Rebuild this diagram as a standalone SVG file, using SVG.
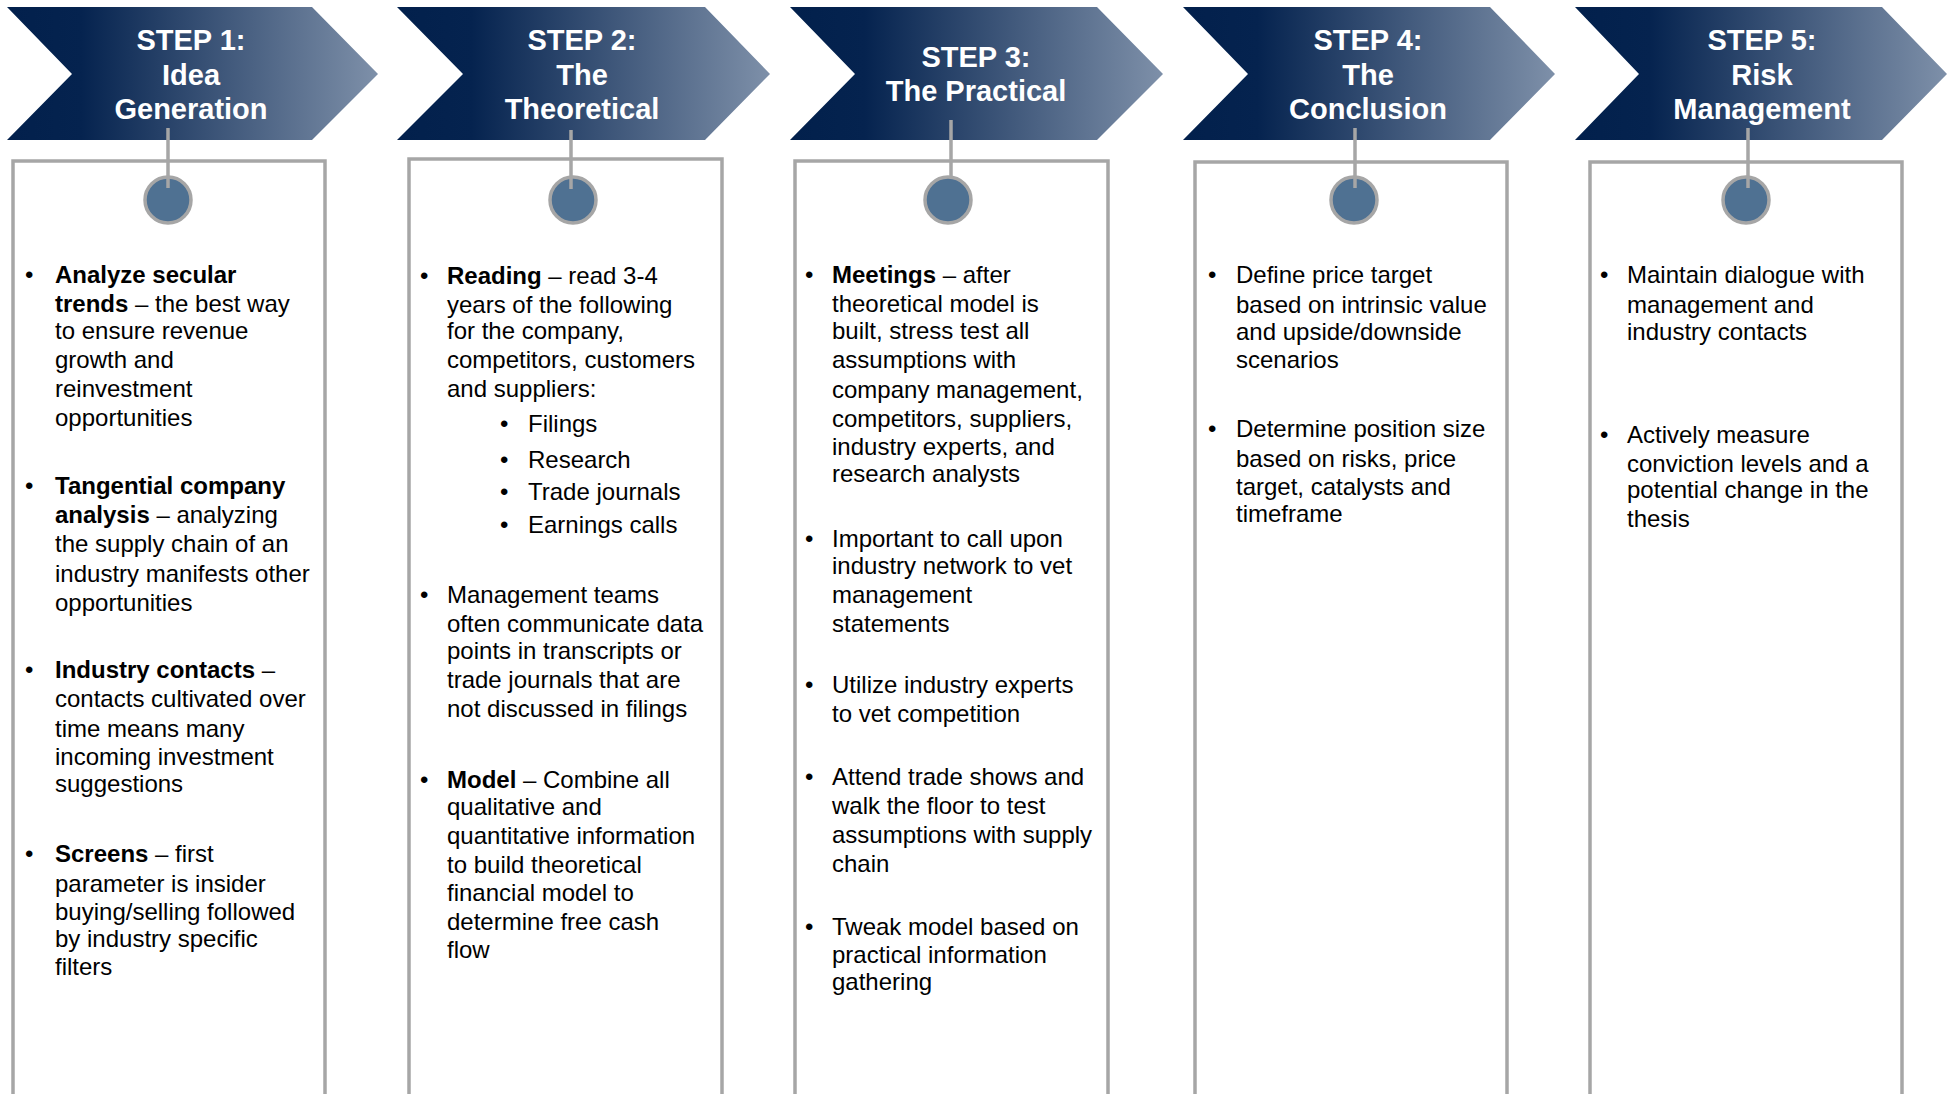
<svg xmlns="http://www.w3.org/2000/svg" width="1956" height="1094" viewBox="0 0 1956 1094">
  <defs>
    <linearGradient id="chevFill" x1="0" y1="0" x2="1" y2="0">
      <stop offset="0" stop-color="#02204c"/>
      <stop offset="0.2" stop-color="#05234f"/>
      <stop offset="1" stop-color="#7e90a9"/>
    </linearGradient>
  </defs>
  <style>
    .chev { fill: url(#chevFill); }
    .head { font-family: "Liberation Sans", Arial, sans-serif; font-weight: bold; font-size: 29px; fill: #ffffff; text-anchor: middle; }
    .panel { fill: #ffffff; stroke: #a6a6a6; stroke-width: 3.5; }
    .dot { fill: #4f7192; stroke: #a6a6a6; stroke-width: 3.5; }
    .link { stroke: #a6a6a6; stroke-width: 3.5; fill: none; }
    .body { font-family: "Liberation Sans", Arial, sans-serif; font-size: 24px; fill: #000000; }
    .b { font-weight: bold; }
  </style>

  <rect x="0" y="0" width="1956" height="1094" fill="#ffffff"/>

  <!-- Step 1 -->
  <g id="step1">
    <polygon class="chev" points="7,7 312,7 378,74 312,140 7,140 72,74"/>
    <text class="head"><tspan x="191" y="50">STEP 1:</tspan><tspan x="191" y="84.5">Idea</tspan><tspan x="191" y="119">Generation</tspan></text>
    <rect class="panel" x="13" y="161" width="312" height="960"/>
    <circle class="dot" cx="168" cy="200" r="23"/>
    <text class="body">
      <tspan x="25" y="283">•</tspan><tspan x="55" y="283" class="b">Analyze secular</tspan>
      <tspan x="55" y="312" class="b">trends</tspan><tspan> – the best way</tspan>
      <tspan x="55" y="339">to ensure revenue</tspan>
      <tspan x="55" y="368">growth and</tspan>
      <tspan x="55" y="397">reinvestment</tspan>
      <tspan x="55" y="426">opportunities</tspan>
      <tspan x="25" y="494">•</tspan><tspan x="55" y="494" class="b">Tangential company</tspan>
      <tspan x="55" y="523" class="b">analysis</tspan><tspan> – analyzing</tspan>
      <tspan x="55" y="552">the supply chain of an</tspan>
      <tspan x="55" y="582">industry manifests other</tspan>
      <tspan x="55" y="611">opportunities</tspan>
      <tspan x="25" y="678">•</tspan><tspan x="55" y="678" class="b">Industry contacts</tspan><tspan> –</tspan>
      <tspan x="55" y="707">contacts cultivated over</tspan>
      <tspan x="55" y="737">time means many</tspan>
      <tspan x="55" y="765">incoming investment</tspan>
      <tspan x="55" y="792">suggestions</tspan>
      <tspan x="25" y="862">•</tspan><tspan x="55" y="862" class="b">Screens</tspan><tspan> – first</tspan>
      <tspan x="55" y="892">parameter is insider</tspan>
      <tspan x="55" y="920">buying/selling followed</tspan>
      <tspan x="55" y="947">by industry specific</tspan>
      <tspan x="55" y="975">filters</tspan>
    </text>
  </g>

  <!-- Step 2 -->
  <g id="step2">
    <polygon class="chev" points="397,7 705,7 770,74 705,140 397,140 463,74"/>
    <text class="head"><tspan x="582" y="50">STEP 2:</tspan><tspan x="582" y="84.5">The</tspan><tspan x="582" y="119">Theoretical</tspan></text>
    <rect class="panel" x="409" y="159" width="313" height="960"/>
    <circle class="dot" cx="573" cy="200" r="23"/>
    <text class="body">
      <tspan x="420" y="284">•</tspan><tspan x="447" y="284" class="b">Reading</tspan><tspan> – read 3-4</tspan>
      <tspan x="447" y="313">years of the following</tspan>
      <tspan x="447" y="339">for the company,</tspan>
      <tspan x="447" y="368">competitors, customers</tspan>
      <tspan x="447" y="397">and suppliers:</tspan>
      <tspan x="500" y="432">•</tspan><tspan x="528" y="432">Filings</tspan>
      <tspan x="500" y="468">•</tspan><tspan x="528" y="468">Research</tspan>
      <tspan x="500" y="500">•</tspan><tspan x="528" y="500">Trade journals</tspan>
      <tspan x="500" y="533">•</tspan><tspan x="528" y="533">Earnings calls</tspan>
      <tspan x="420" y="603">•</tspan><tspan x="447" y="603">Management teams</tspan>
      <tspan x="447" y="632">often communicate data</tspan>
      <tspan x="447" y="659">points in transcripts or</tspan>
      <tspan x="447" y="688">trade journals that are</tspan>
      <tspan x="447" y="717">not discussed in filings</tspan>
      <tspan x="420" y="788">•</tspan><tspan x="447" y="788" class="b">Model</tspan><tspan> – Combine all</tspan>
      <tspan x="447" y="815">qualitative and</tspan>
      <tspan x="447" y="844">quantitative information</tspan>
      <tspan x="447" y="873">to build theoretical</tspan>
      <tspan x="447" y="901">financial model to</tspan>
      <tspan x="447" y="930">determine free cash</tspan>
      <tspan x="447" y="958">flow</tspan>
    </text>
  </g>

  <!-- Step 3 -->
  <g id="step3">
    <polygon class="chev" points="790,7 1097,7 1163,74 1097,140 790,140 855,74"/>
    <text class="head"><tspan x="976" y="67">STEP 3:</tspan><tspan x="976" y="101">The Practical</tspan></text>
    <rect class="panel" x="795" y="161" width="313" height="960"/>
    <circle class="dot" cx="948" cy="200" r="23"/>
    <text class="body">
      <tspan x="805" y="283">•</tspan><tspan x="832" y="283" class="b">Meetings</tspan><tspan> – after</tspan>
      <tspan x="832" y="312">theoretical model is</tspan>
      <tspan x="832" y="339">built, stress test all</tspan>
      <tspan x="832" y="368">assumptions with</tspan>
      <tspan x="832" y="398">company management,</tspan>
      <tspan x="832" y="427">competitors, suppliers,</tspan>
      <tspan x="832" y="455">industry experts, and</tspan>
      <tspan x="832" y="482">research analysts</tspan>
      <tspan x="805" y="547">•</tspan><tspan x="832" y="547">Important to call upon</tspan>
      <tspan x="832" y="574">industry network to vet</tspan>
      <tspan x="832" y="603">management</tspan>
      <tspan x="832" y="632">statements</tspan>
      <tspan x="805" y="693">•</tspan><tspan x="832" y="693">Utilize industry experts</tspan>
      <tspan x="832" y="722">to vet competition</tspan>
      <tspan x="805" y="785">•</tspan><tspan x="832" y="785">Attend trade shows and</tspan>
      <tspan x="832" y="814">walk the floor to test</tspan>
      <tspan x="832" y="843">assumptions with supply</tspan>
      <tspan x="832" y="872">chain</tspan>
      <tspan x="805" y="935">•</tspan><tspan x="832" y="935">Tweak model based on</tspan>
      <tspan x="832" y="963">practical information</tspan>
      <tspan x="832" y="990">gathering</tspan>
    </text>
  </g>

  <!-- Step 4 -->
  <g id="step4">
    <polygon class="chev" points="1183,7 1490,7 1555,74 1490,140 1183,140 1248,74"/>
    <text class="head"><tspan x="1368" y="50">STEP 4:</tspan><tspan x="1368" y="84.5">The</tspan><tspan x="1368" y="119">Conclusion</tspan></text>
    <rect class="panel" x="1195" y="162" width="312" height="960"/>
    <circle class="dot" cx="1354" cy="200" r="23"/>
    <text class="body">
      <tspan x="1208" y="283">•</tspan><tspan x="1236" y="283">Define price target</tspan>
      <tspan x="1236" y="313">based on intrinsic value</tspan>
      <tspan x="1236" y="340">and upside/downside</tspan>
      <tspan x="1236" y="368">scenarios</tspan>
      <tspan x="1208" y="437">•</tspan><tspan x="1236" y="437">Determine position size</tspan>
      <tspan x="1236" y="467">based on risks, price</tspan>
      <tspan x="1236" y="495">target, catalysts and</tspan>
      <tspan x="1236" y="522">timeframe</tspan>
    </text>
  </g>

  <!-- Step 5 -->
  <g id="step5">
    <polygon class="chev" points="1575,7 1882,7 1947,74 1882,140 1575,140 1639,74"/>
    <text class="head"><tspan x="1762" y="50">STEP 5:</tspan><tspan x="1762" y="84.5">Risk</tspan><tspan x="1762" y="119">Management</tspan></text>
    <rect class="panel" x="1590" y="162" width="312" height="960"/>
    <circle class="dot" cx="1746" cy="200" r="23"/>
    <text class="body">
      <tspan x="1600" y="283">•</tspan><tspan x="1627" y="283">Maintain dialogue with</tspan>
      <tspan x="1627" y="313">management and</tspan>
      <tspan x="1627" y="340">industry contacts</tspan>
      <tspan x="1600" y="443">•</tspan><tspan x="1627" y="443">Actively measure</tspan>
      <tspan x="1627" y="472">conviction levels and a</tspan>
      <tspan x="1627" y="498">potential change in the</tspan>
      <tspan x="1627" y="527">thesis</tspan>
    </text>
  </g>

  <!-- Stems from each header down into its marker dot -->
  <g id="connectors">
    <line class="link" x1="168" y1="128" x2="168" y2="188"/>
    <line class="link" x1="571" y1="130" x2="571" y2="189"/>
    <line class="link" x1="951" y1="120" x2="951" y2="177"/>
    <line class="link" x1="1355" y1="128" x2="1355" y2="188"/>
    <line class="link" x1="1748" y1="128" x2="1748" y2="188"/>
  </g>
</svg>
